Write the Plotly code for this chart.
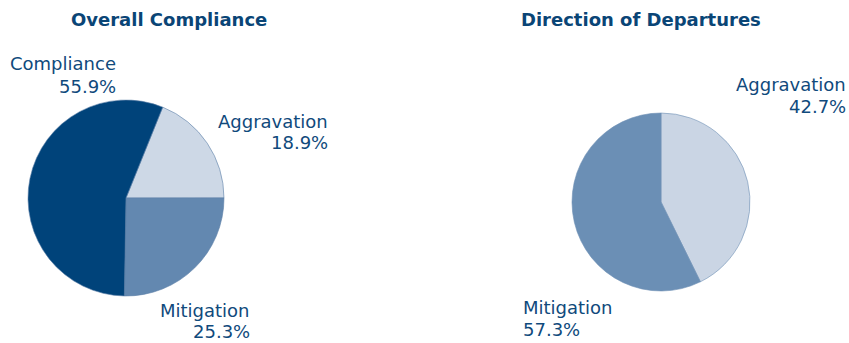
import plotly.graph_objects as go

W, H = 849, 343

# Overall compliance breakdown (percent)
overall_labels = ["Aggravation", "Mitigation", "Compliance"]
overall_values = [18.9, 25.3, 55.9]
overall_colors = ["#CDD8E6", "#6388B0", "#00437A"]

# Direction of departures (percent)
direction_labels = ["Aggravation", "Mitigation"]
direction_values = [42.7, 57.3]
direction_colors = ["#CAD5E4", "#6B8FB5"]

TEXT_COLOR = "#104A7C"
TITLE_COLOR = "#0A4576"
FONT = "DejaVu Sans"


def px_dom(cx, cy, r):
    return dict(x=[(cx - r) / W, (cx + r) / W],
                y=[(H - cy - r) / H, (H - cy + r) / H])


fig = go.Figure()
fig.add_trace(go.Pie(
    labels=overall_labels, values=overall_values, sort=False,
    direction="clockwise", rotation=22,
    marker=dict(colors=overall_colors, line=dict(color="#5D80A8", width=0.6)),
    textinfo="none", hoverinfo="label+percent",
    domain=px_dom(126, 198, 98),
))
fig.add_trace(go.Pie(
    labels=direction_labels, values=direction_values, sort=False,
    direction="clockwise", rotation=0,
    marker=dict(colors=direction_colors, line=dict(color="#6F90B6", width=0.6)),
    textinfo="none", hoverinfo="label+percent",
    domain=px_dom(661, 202, 89),
))


def line(text, x, y, anchor, size=18, color=TEXT_COLOR):
    fig.add_annotation(text=text, xref="paper", yref="paper",
                       x=x / W, y=1 - y / H, xanchor=anchor, yanchor="middle",
                       showarrow=False,
                       font=dict(family=FONT, size=size, color=color))


def label(name, value, x, y_name, y_value, anchor):
    line(name, x, y_name, anchor)
    line(f"{value:.1f}%", x, y_value, anchor)


ov = dict(zip(overall_labels, overall_values))
dv = dict(zip(direction_labels, direction_values))

label("Compliance", ov["Compliance"], 118, 64, 86, "right")
label("Aggravation", ov["Aggravation"], 330, 121, 142, "right")
label("Mitigation", ov["Mitigation"], 252, 310, 331, "right")
label("Aggravation", dv["Aggravation"], 848, 84, 106, "right")
label("Mitigation", dv["Mitigation"], 521, 307, 329, "left")

for t, cx in [("Overall Compliance", 169), ("Direction of Departures", 641)]:
    line(f"<b>{t}</b>", cx, 20, "center", size=18, color=TITLE_COLOR)

fig.update_layout(width=W, height=H, margin=dict(l=0, r=0, t=0, b=0),
                  showlegend=False, paper_bgcolor="white", plot_bgcolor="white")

fig.write_html("out.html")
